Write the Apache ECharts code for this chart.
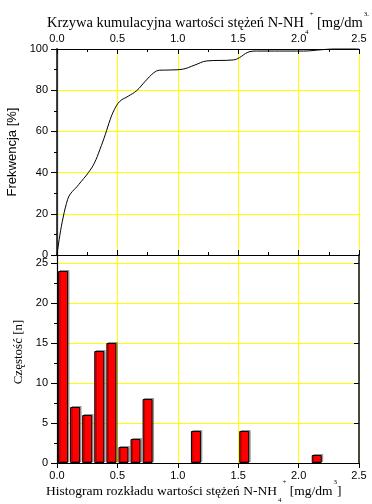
<!DOCTYPE html>
<html>
<head>
<meta charset="utf-8">
<script src="https://cdn.jsdelivr.net/npm/echarts@6/dist/echarts.min.js"></script>
<style>
  html, body { margin: 0; padding: 0; background: #fff; }
  #chart { width: 372px; height: 504px; }
</style>
</head>
<body>
<div id="chart"></div>
<script>
// Histogram of N-NH4+ concentrations (bin centres, counts)
const binCentres = [0.05, 0.15, 0.25, 0.35, 0.45, 0.55, 0.65, 0.75, 1.15, 1.55, 2.15];
const binCounts = [24, 7, 6, 14, 15, 2, 3, 8, 4, 4, 1];

// Cumulative frequency curve [%] (concentration, percent)
const curveX = [0, 0.088, 0.18, 0.26, 0.31, 0.355, 0.4, 0.44, 0.475, 0.52, 0.59, 0.66, 0.73, 0.8, 0.85, 0.93, 1.04, 1.14, 1.24, 1.46, 1.51, 1.58, 1.65, 2.04, 2.2, 2.3, 2.5];
const curveY = [0, 27, 34.2, 40, 44.7, 51.2, 58.5, 65.7, 70.6, 74.6, 77.1, 79.8, 84.3, 88.4, 89.7, 89.8, 90.2, 92.2, 94.2, 94.7, 95.8, 98.4, 99, 99, 99.7, 100, 100];

const xTicks = ['0.0', '0.5', '1.0', '1.5', '2.0', '2.5'];
const freqTicks = [0, 20, 40, 60, 80, 100];
const countTicks = [0, 5, 10, 15, 20, 25];

const SANS = 'Liberation Sans, Arial, sans-serif';
const SERIF = 'Liberation Serif, Times New Roman, serif';
const GRID_YELLOW = '#ffff00';
const AXIS_BLACK = '#000';

const chart = echarts.init(document.getElementById('chart'), null, { renderer: 'canvas' });

const xLabelFmt = v => {
  const s = v.toFixed(1);
  return xTicks.indexOf(s) >= 0 ? s : '';
};

function xAxisBase(gridIndex, position, showLabel, tickInside, margin) {
  return {
    type: 'value', gridIndex, position, min: 0, max: 2.5, interval: 0.5,
    axisLine: { show: true, onZero: false, lineStyle: { color: AXIS_BLACK, width: 1.2 } },
    axisTick: { show: true, inside: tickInside, length: 5, lineStyle: { color: AXIS_BLACK } },
    minorTick: { show: true, splitNumber: 2, length: 3, lineStyle: { color: AXIS_BLACK } },
    axisLabel: { show: showLabel, formatter: xLabelFmt, color: '#000', fontFamily: SANS, fontSize: 11, margin: margin },
    splitLine: { show: false },
    minorSplitLine: { show: false }
  };
}

// rich-text styles for a title with sub- and superscripts
function titleRich(size) {
  return {
    m: { fontFamily: SERIF, fontSize: size, fill: '#000' },
    sub: { fontFamily: SERIF, fontSize: 7, fill: '#000', padding: [18, 0, 0, 1] },
    sup: { fontFamily: SERIF, fontSize: 7, fill: '#000', padding: [0, 0, 18, 1] }
  };
}

const option = {
  animation: false,
  backgroundColor: '#fff',
  grid: [
    { left: 57, right: 13, top: 49, height: 206, containLabel: false, outerBoundsMode: 'none' },
    { left: 57, right: 13, top: 255, height: 208, containLabel: false, outerBoundsMode: 'none' }
  ],
  xAxis: [
    // top panel, bottom edge: gridlines + inward ticks
    Object.assign(xAxisBase(0, 'bottom', false, true, 4), {
      splitLine: { show: true, lineStyle: { color: GRID_YELLOW, width: 1 } }
    }),
    // top panel, top edge: labels
    xAxisBase(0, 'top', true, true, 5),
    // bottom panel: labels below
    Object.assign(xAxisBase(1, 'bottom', true, false, 7), {
      splitLine: { show: true, lineStyle: { color: GRID_YELLOW, width: 1 } },
      minorTick: { show: false }
    })
  ],
  yAxis: [
    {
      type: 'value', gridIndex: 0, position: 'left', min: 0, max: 100, interval: 20,
      axisLine: { show: true, lineStyle: { color: AXIS_BLACK, width: 1.2 } },
      axisTick: { show: true, length: 6, lineStyle: { color: AXIS_BLACK } },
      minorTick: { show: true, splitNumber: 2, length: 3, lineStyle: { color: AXIS_BLACK } },
      axisLabel: { color: '#000', fontFamily: SANS, fontSize: 11, margin: 9,
        formatter: v => freqTicks.indexOf(v) >= 0 ? String(v) : '' },
      splitLine: { show: true, lineStyle: { color: GRID_YELLOW, width: 1 } },
      name: 'Frekwencja [%]', nameLocation: 'middle', nameGap: 33, nameRotate: 90,
      nameTextStyle: { fontFamily: SANS, fontSize: 13, color: '#000' }
    },
    {
      type: 'value', gridIndex: 0, position: 'right', min: 0, max: 100, interval: 20,
      axisLine: { show: true, lineStyle: { color: '#333', width: 1.8 } },
      axisTick: { show: true, inside: true, length: 5, lineStyle: { color: AXIS_BLACK } },
      minorTick: { show: true, splitNumber: 2, length: 3, lineStyle: { color: AXIS_BLACK } },
      axisLabel: { show: false },
      splitLine: { show: false }
    },
    {
      type: 'value', gridIndex: 1, position: 'left', min: 0, max: 26, interval: 5,
      axisLine: { show: true, lineStyle: { color: AXIS_BLACK, width: 1.2 } },
      axisTick: { show: true, length: 6, lineStyle: { color: AXIS_BLACK } },
      minorTick: { show: true, splitNumber: 2, length: 3, lineStyle: { color: AXIS_BLACK } },
      axisLabel: { color: '#000', fontFamily: SANS, fontSize: 11, margin: 9,
        formatter: v => countTicks.indexOf(v) >= 0 ? String(v) : '' },
      splitLine: { show: true, lineStyle: { color: GRID_YELLOW, width: 1 } },
      name: 'Częstość [n]', nameLocation: 'middle', nameGap: 30, nameRotate: 90,
      nameTextStyle: { fontFamily: SERIF, fontSize: 13, color: '#000', padding: [0, 0, 0, 14] }
    },
    {
      type: 'value', gridIndex: 1, position: 'right', min: 0, max: 26, interval: 5,
      axisLine: { show: true, lineStyle: { color: '#333', width: 1.8 } },
      axisTick: { show: true, inside: true, length: 5, lineStyle: { color: AXIS_BLACK } },
      minorTick: { show: false },
      axisLabel: { show: false },
      splitLine: { show: false }
    }
  ],
  graphic: [
    {
      type: 'text', left: 47, top: 11, silent: true,
      style: {
        text: '{m|Krzywa kumulacyjna wartości stężeń N-NH}{sub|4}{sup|+}{m| [mg/dm}{sup|3.}',
        rich: titleRich(14.5)
      }
    },
    {
      type: 'text', left: 46, top: 479, silent: true,
      style: {
        text: '{m|Histogram rozkładu wartości stężeń N-NH}{sub|4}{sup|+}{m| [mg/dm}{sup|3}{m|]}',
        rich: titleRich(13.5)
      }
    }
  ],
  series: [
    {
      type: 'line', xAxisIndex: 0, yAxisIndex: 0,
      data: curveX.map((x, i) => [x, curveY[i]]),
      smooth: 0.4, showSymbol: false, symbol: 'none',
      lineStyle: { color: '#000', width: 1 },
      clip: false, z: 5
    },
    {
      type: 'bar', xAxisIndex: 2, yAxisIndex: 2,
      data: binCentres.map((x, i) => [x, binCounts[i]]),
      barWidth: 10,
      itemStyle: {
        color: '#ff0000', borderColor: '#000', borderWidth: 1,
        shadowColor: 'rgba(0,0,0,0.3)', shadowOffsetX: 1.5, shadowOffsetY: -1, shadowBlur: 0
      },
      z: 5
    }
  ]
};

chart.setOption(option);
</script>
</body>
</html>
